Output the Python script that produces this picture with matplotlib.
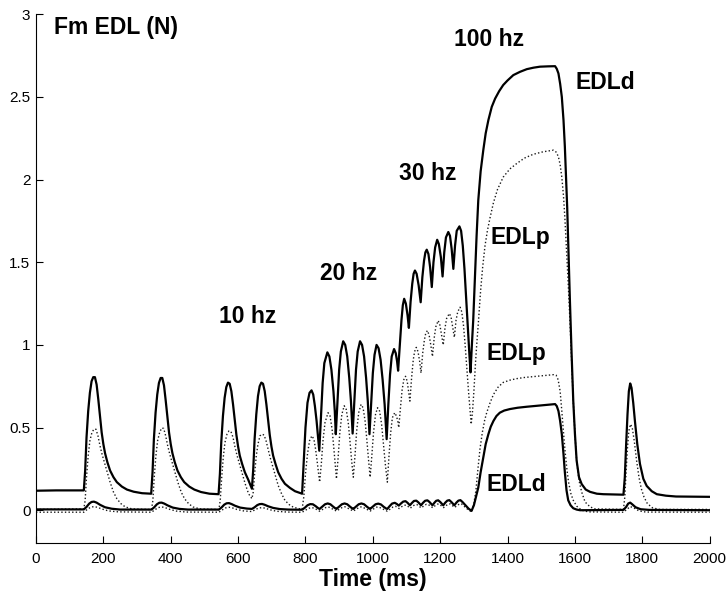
import numpy as np
import matplotlib
matplotlib.use("Agg")
import matplotlib.pyplot as plt

plt.rcParams['font.family'] = ['Liberation Sans', 'DejaVu Sans']

# Force traces (time in ms, force in N), listed as (time, force) samples.
edld_upper = [
    (0, 0.118), (60, 0.12), (142, 0.12), (146, 0.24), (150, 0.44), (155, 0.60), (160, 0.71),
    (165, 0.78), (170, 0.805), (175, 0.805), (180, 0.76), (185, 0.67), (190, 0.57), (195, 0.47),
    (200, 0.40), (205, 0.345), (212, 0.29), (220, 0.24), (230, 0.20), (240, 0.17), (255, 0.143),
    (270, 0.125), (290, 0.112), (315, 0.103), (342, 0.100),
    (346, 0.23), (350, 0.43), (355, 0.59), (360, 0.70), (365, 0.77), (370, 0.80), (375, 0.80),
    (380, 0.755), (385, 0.665), (390, 0.565), (395, 0.47), (400, 0.40), (405, 0.345), (412, 0.29),
    (420, 0.24), (430, 0.20), (440, 0.17), (455, 0.143), (470, 0.125), (490, 0.11), (515, 0.10),
    (542, 0.097),
    (546, 0.22), (550, 0.41), (555, 0.57), (560, 0.68), (565, 0.745), (570, 0.772), (575, 0.765),
    (580, 0.72), (585, 0.64), (590, 0.545), (595, 0.455), (600, 0.385), (605, 0.33), (612, 0.28),
    (620, 0.23), (630, 0.185), (641, 0.13),
    (645, 0.25), (649, 0.43), (654, 0.58), (659, 0.69), (664, 0.75), (669, 0.772), (674, 0.765),
    (679, 0.72), (684, 0.64), (689, 0.545), (694, 0.455), (699, 0.385), (704, 0.33), (711, 0.28),
    (719, 0.23), (729, 0.19), (739, 0.16), (754, 0.135), (769, 0.115), (790, 0.10),
    (795, 0.30), (800, 0.50), (806, 0.65), (812, 0.71), (818, 0.725), (823, 0.70), (828, 0.63),
    (833, 0.54), (838, 0.43), (841, 0.36),
    (846, 0.57), (851, 0.77), (856, 0.89), (865, 0.955), (871, 0.93), (877, 0.85), (883, 0.72),
    (887, 0.60), (890, 0.46),
    (895, 0.66), (900, 0.85), (905, 0.96), (912, 1.022), (918, 1.00), (924, 0.93), (930, 0.80),
    (935, 0.66), (940, 0.464),
    (945, 0.66), (950, 0.85), (955, 0.96), (962, 1.022), (968, 1.00), (974, 0.93), (980, 0.80),
    (985, 0.66), (990, 0.46),
    (995, 0.65), (1000, 0.83), (1005, 0.94), (1011, 1.00), (1017, 0.98), (1023, 0.91), (1029, 0.79),
    (1035, 0.64), (1041, 0.43),
    (1046, 0.64), (1051, 0.82), (1056, 0.93), (1063, 0.975), (1068, 0.95), (1072, 0.90), (1075, 0.844),
    (1080, 1.00), (1085, 1.15), (1089, 1.24), (1093, 1.279), (1098, 1.25), (1103, 1.18), (1107, 1.103),
    (1112, 1.26), (1117, 1.37), (1121, 1.43), (1125, 1.45), (1130, 1.43), (1136, 1.36), (1142, 1.258),
    (1147, 1.41), (1152, 1.51), (1156, 1.56), (1160, 1.576), (1165, 1.55), (1170, 1.47), (1175, 1.35),
    (1180, 1.50), (1185, 1.59), (1191, 1.636), (1196, 1.61), (1202, 1.53), (1207, 1.414),
    (1212, 1.56), (1217, 1.65), (1224, 1.683), (1229, 1.66), (1234, 1.58), (1239, 1.46),
    (1244, 1.60), (1249, 1.69), (1257, 1.717), (1262, 1.69), (1267, 1.60), (1272, 1.46), (1277, 1.28),
    (1282, 1.10), (1287, 0.93), (1290, 0.834),
    (1294, 1.00), (1298, 1.15), (1303, 1.40), (1308, 1.66), (1313, 1.875), (1320, 2.05), (1328, 2.18),
    (1335, 2.28), (1343, 2.36), (1353, 2.44), (1363, 2.49), (1375, 2.535), (1387, 2.572), (1400, 2.60),
    (1417, 2.632), (1437, 2.652), (1457, 2.668), (1477, 2.677), (1496, 2.683), (1520, 2.685), (1541, 2.686),
    (1546, 2.67), (1551, 2.642), (1556, 2.58), (1561, 2.50), (1566, 2.36), (1570, 2.20), (1574, 1.98),
    (1577, 1.83), (1581, 1.55), (1585, 1.27), (1590, 0.95), (1595, 0.66), (1600, 0.46), (1605, 0.30),
    (1612, 0.20), (1620, 0.158), (1632, 0.125), (1645, 0.111), (1665, 0.10), (1684, 0.097), (1744, 0.094),
    (1748, 0.20), (1752, 0.40), (1756, 0.58), (1760, 0.72), (1764, 0.767), (1768, 0.74), (1773, 0.65),
    (1778, 0.54), (1785, 0.40), (1793, 0.28), (1803, 0.19), (1813, 0.147), (1828, 0.115), (1843, 0.097),
    (1870, 0.088), (1900, 0.083), (1950, 0.082), (2000, 0.081),
]

edlp_upper = [
    (0, 0.005), (142, 0.008), (146, 0.06), (150, 0.20), (155, 0.33), (160, 0.42), (166, 0.47),
    (172, 0.49), (178, 0.49), (184, 0.45), (190, 0.39), (196, 0.34), (203, 0.29), (210, 0.24),
    (220, 0.17), (230, 0.11), (240, 0.07), (252, 0.04), (265, 0.02), (285, 0.008), (343, 0.004),
    (347, 0.06), (351, 0.20), (356, 0.33), (361, 0.42), (367, 0.47), (373, 0.497), (379, 0.495),
    (385, 0.45), (391, 0.39), (397, 0.34), (404, 0.29), (411, 0.24), (421, 0.17), (431, 0.11),
    (441, 0.07), (453, 0.04), (466, 0.02), (486, 0.008), (543, 0.004),
    (547, 0.06), (551, 0.19), (556, 0.32), (561, 0.41), (567, 0.46), (573, 0.48), (579, 0.475),
    (585, 0.44), (591, 0.38), (597, 0.33), (604, 0.28), (611, 0.23), (621, 0.16), (631, 0.10),
    (641, 0.07),
    (645, 0.11), (649, 0.22), (654, 0.33), (659, 0.40), (665, 0.45), (671, 0.46), (677, 0.455),
    (683, 0.42), (689, 0.37), (695, 0.32), (702, 0.27), (709, 0.22), (719, 0.15), (729, 0.10),
    (739, 0.06), (751, 0.035), (764, 0.018), (790, 0.005),
    (795, 0.08), (800, 0.22), (806, 0.34), (812, 0.42), (819, 0.45), (825, 0.43), (830, 0.37),
    (835, 0.29), (839, 0.22), (842, 0.17),
    (847, 0.28), (852, 0.42), (858, 0.53), (867, 0.59), (873, 0.57), (879, 0.49), (884, 0.38),
    (889, 0.26), (892, 0.19),
    (897, 0.32), (902, 0.47), (908, 0.58), (915, 0.632), (921, 0.61), (927, 0.53), (932, 0.42),
    (937, 0.30), (942, 0.20),
    (947, 0.33), (952, 0.48), (958, 0.59), (965, 0.64), (971, 0.62), (977, 0.54), (982, 0.43),
    (987, 0.31), (992, 0.20),
    (997, 0.33), (1002, 0.47), (1008, 0.58), (1014, 0.62), (1020, 0.60), (1026, 0.52), (1031, 0.41),
    (1037, 0.28), (1043, 0.17),
    (1048, 0.33), (1053, 0.47), (1058, 0.56), (1065, 0.59), (1070, 0.57), (1074, 0.54), (1077, 0.50),
    (1082, 0.62), (1087, 0.73), (1092, 0.79), (1097, 0.81), (1102, 0.78), (1106, 0.72), (1110, 0.66),
    (1115, 0.80), (1120, 0.91), (1124, 0.96), (1129, 0.985), (1134, 0.96), (1139, 0.90), (1143, 0.83),
    (1148, 0.95), (1153, 1.03), (1157, 1.07), (1162, 1.087), (1167, 1.06), (1172, 1.00), (1177, 0.93),
    (1182, 1.04), (1187, 1.11), (1194, 1.147), (1199, 1.12), (1204, 1.06), (1209, 1.00),
    (1214, 1.10), (1219, 1.16), (1227, 1.19), (1232, 1.17), (1237, 1.11), (1242, 1.046),
    (1247, 1.15), (1252, 1.20), (1259, 1.228), (1264, 1.20), (1269, 1.12), (1274, 1.00), (1279, 0.86),
    (1284, 0.72), (1289, 0.59), (1292, 0.52),
    (1296, 0.60), (1300, 0.72), (1305, 0.90), (1309, 1.02), (1313, 1.127), (1320, 1.33), (1326, 1.47),
    (1333, 1.60), (1340, 1.69), (1348, 1.77), (1358, 1.86), (1370, 1.94), (1387, 2.015), (1407, 2.065),
    (1427, 2.097), (1450, 2.13), (1476, 2.153), (1505, 2.168), (1536, 2.178), (1545, 2.165), (1551, 2.137),
    (1556, 2.09), (1561, 2.015), (1566, 1.90), (1570, 1.77), (1575, 1.57), (1580, 1.37), (1585, 1.15),
    (1590, 0.90), (1595, 0.66), (1600, 0.46), (1605, 0.30), (1612, 0.18), (1620, 0.11), (1630, 0.05),
    (1645, 0.02), (1660, 0.008), (1744, 0.005),
    (1748, 0.08), (1752, 0.24), (1756, 0.38), (1760, 0.48), (1765, 0.52), (1770, 0.50), (1776, 0.42),
    (1783, 0.30), (1790, 0.20), (1797, 0.13), (1805, 0.08), (1815, 0.04), (1830, 0.015), (1850, 0.005),
    (2000, 0.005),
]

edld_lower = [
    (0, 0.005), (142, 0.005), (150, 0.02), (158, 0.04), (165, 0.05), (172, 0.052), (180, 0.046),
    (190, 0.033), (205, 0.018), (225, 0.009), (250, 0.004), (343, 0.004),
    (351, 0.018), (359, 0.036), (366, 0.045), (373, 0.046), (381, 0.040), (391, 0.029), (406, 0.016),
    (426, 0.008), (451, 0.004), (543, 0.004),
    (551, 0.017), (559, 0.034), (566, 0.042), (573, 0.043), (581, 0.037), (591, 0.027), (606, 0.016),
    (626, 0.010), (641, 0.008),
    (649, 0.018), (657, 0.031), (664, 0.037), (671, 0.038), (679, 0.033), (689, 0.024), (704, 0.014),
    (724, 0.007), (749, 0.004), (790, 0.003),
    (798, 0.015), (806, 0.030), (814, 0.037), (822, 0.036), (830, 0.025), (838, 0.012), (842, 0.008),
    (850, 0.022), (858, 0.036), (866, 0.041), (874, 0.036), (882, 0.022), (889, 0.011), (892, 0.008),
    (900, 0.022), (908, 0.036), (916, 0.041), (924, 0.036), (932, 0.022), (939, 0.011), (942, 0.008),
    (950, 0.022), (958, 0.036), (966, 0.041), (974, 0.036), (982, 0.022), (989, 0.011), (992, 0.008),
    (1000, 0.022), (1008, 0.036), (1016, 0.040), (1024, 0.035), (1032, 0.021), (1039, 0.011), (1043, 0.008),
    (1050, 0.025), (1057, 0.040), (1065, 0.045), (1071, 0.038), (1077, 0.028),
    (1083, 0.040), (1090, 0.052), (1097, 0.055), (1103, 0.045), (1110, 0.030),
    (1116, 0.044), (1122, 0.056), (1129, 0.058), (1135, 0.048), (1143, 0.030),
    (1149, 0.045), (1155, 0.057), (1162, 0.060), (1168, 0.050), (1177, 0.030),
    (1183, 0.046), (1188, 0.057), (1194, 0.060), (1200, 0.050), (1209, 0.030),
    (1215, 0.046), (1221, 0.058), (1227, 0.061), (1233, 0.050), (1242, 0.030),
    (1248, 0.046), (1254, 0.058), (1260, 0.061), (1266, 0.050), (1275, 0.030), (1284, 0.010), (1293, -0.004),
    (1300, 0.03), (1306, 0.08), (1313, 0.137), (1320, 0.23), (1328, 0.319), (1335, 0.40), (1343, 0.46),
    (1350, 0.505), (1358, 0.54), (1367, 0.57), (1377, 0.59), (1390, 0.603), (1407, 0.612), (1430, 0.62),
    (1457, 0.626), (1500, 0.634), (1541, 0.642), (1546, 0.63), (1551, 0.60), (1556, 0.54), (1561, 0.46),
    (1566, 0.34), (1570, 0.23), (1575, 0.12), (1580, 0.06), (1587, 0.03), (1595, 0.012), (1605, 0.004),
    (1615, 0.0), (1744, 0.002),
    (1752, 0.02), (1758, 0.04), (1764, 0.046), (1770, 0.036), (1780, 0.018), (1795, 0.006), (1820, 0.002),
    (2000, 0.0),
]

edlp_lower = [
    (0, -0.012), (142, -0.012), (152, 0.005), (162, 0.018), (172, 0.022), (182, 0.018), (195, 0.008),
    (215, -0.004), (245, -0.010), (343, -0.012),
    (353, 0.003), (363, 0.016), (373, 0.02), (383, 0.016), (396, 0.006), (416, -0.005), (446, -0.011),
    (543, -0.012),
    (553, 0.002), (563, 0.014), (573, 0.018), (583, 0.014), (596, 0.005), (616, -0.004), (641, -0.008),
    (651, 0.004), (661, 0.013), (671, 0.016), (681, 0.012), (694, 0.003), (714, -0.006), (744, -0.011),
    (790, -0.012),
    (800, 0.0), (810, 0.012), (820, 0.016), (830, 0.008), (842, -0.006), (852, 0.006), (860, 0.016),
    (868, 0.02), (878, 0.01), (892, -0.005), (902, 0.008), (910, 0.018), (917, 0.021), (927, 0.011),
    (942, -0.005), (952, 0.008), (960, 0.018), (967, 0.021), (977, 0.011), (992, -0.005), (1002, 0.008),
    (1010, 0.018), (1017, 0.02), (1027, 0.01), (1043, -0.006),
    (1052, 0.008), (1060, 0.02), (1067, 0.024), (1072, 0.018), (1078, 0.010), (1086, 0.022), (1093, 0.030),
    (1099, 0.031), (1105, 0.022), (1111, 0.012), (1119, 0.026), (1126, 0.034), (1131, 0.034), (1137, 0.024),
    (1144, 0.014), (1152, 0.028), (1159, 0.036), (1164, 0.036), (1170, 0.026), (1178, 0.015), (1185, 0.028),
    (1192, 0.037), (1197, 0.037), (1203, 0.027), (1210, 0.016), (1218, 0.029), (1225, 0.038), (1230, 0.038),
    (1236, 0.028), (1243, 0.017), (1251, 0.030), (1258, 0.039), (1263, 0.038), (1270, 0.026), (1280, 0.008),
    (1293, -0.01),
    (1300, 0.04), (1306, 0.12), (1312, 0.25), (1318, 0.37), (1325, 0.47), (1332, 0.545), (1338, 0.59),
    (1348, 0.65), (1358, 0.70), (1372, 0.745), (1387, 0.773), (1407, 0.787), (1427, 0.796), (1450, 0.803),
    (1476, 0.808), (1505, 0.814), (1536, 0.82), (1544, 0.817), (1550, 0.79), (1556, 0.72), (1561, 0.60),
    (1566, 0.47), (1571, 0.35), (1576, 0.25), (1581, 0.17), (1588, 0.10), (1595, 0.06), (1605, 0.025),
    (1620, 0.0), (1640, -0.01), (1744, -0.012),
    (1754, 0.005), (1764, 0.022), (1774, 0.015), (1790, -0.004), (1810, -0.011), (2000, -0.012),
]

x_ticks = [0, 200, 400, 600, 800, 1000, 1200, 1400, 1600, 1800, 2000]
y_ticks = [0, 0.5, 1, 1.5, 2, 2.5, 3]
y_tick_labels = ['0', '0.5', '1', '1.5', '2', '2.5', '3']

annotations = [
    ("Fm EDL (N)", 53, 2.92),
    ("10 hz", 543, 1.17),
    ("20 hz", 843, 1.435),
    ("30 hz", 1078, 2.036),
    ("100 hz", 1241, 2.85),
    ("EDLd", 1603, 2.588),
    ("EDLp", 1350, 1.652),
    ("EDLp", 1336, 0.95),
    ("EDLd", 1336, 0.155),
]

fig = plt.figure(figsize=(7.27, 5.95), dpi=100)
ax = fig.add_axes([0.0495, 0.0869, 0.9267, 0.8891])

dot_style = dict(color='#1a1a1a', lw=1.0, linestyle=(0, (1, 1.6)))
solid_style = dict(color='black', lw=1.6, solid_joinstyle='round')

for series, style in [(edlp_upper, dot_style), (edlp_lower, dot_style),
                      (edld_lower, solid_style), (edld_upper, solid_style)]:
    t, f = np.array(series).T
    ax.plot(t, f, **style)

ax.set_xlim(0, 2000)
ax.set_ylim(-0.2, 3)
ax.set_xticks(x_ticks)
ax.set_yticks(y_ticks)
ax.set_yticklabels(y_tick_labels)
ax.tick_params(direction='in', length=5, width=0.8, labelsize=11, pad=4)
ax.tick_params(axis='x', pad=6)
for side in ('top', 'right'):
    ax.spines[side].set_visible(False)
for side in ('left', 'bottom'):
    ax.spines[side].set_linewidth(0.8)

ax.set_xlabel("Time (ms)", fontsize=16.5, fontweight='bold', labelpad=2)

for text, tx, ty in annotations:
    ax.text(tx, ty, text, fontsize=16.5, fontweight='bold', ha='left', va='center')

fig.savefig("out.png", dpi=100)
